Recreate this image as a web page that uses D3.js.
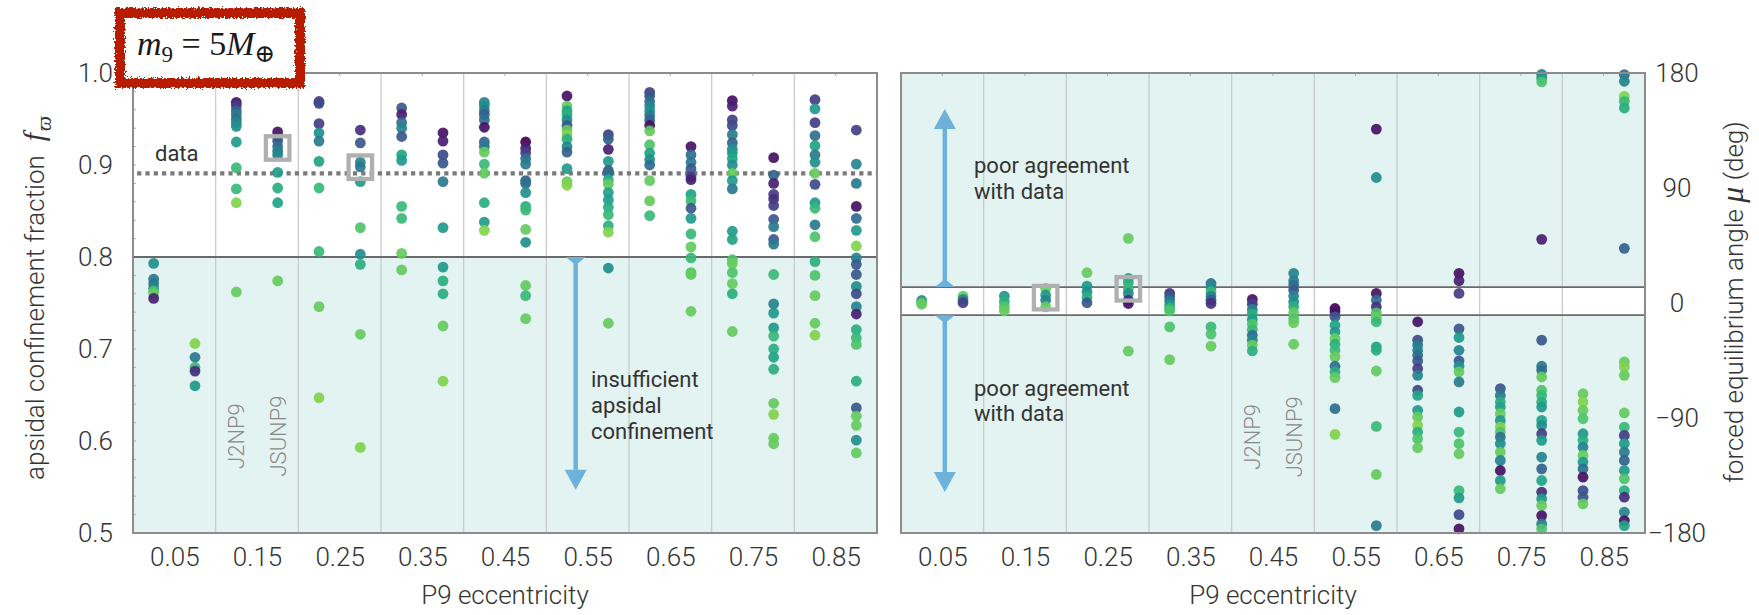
<!DOCTYPE html>
<html>
<head>
<meta charset="utf-8">
<script src="https://cdn.jsdelivr.net/npm/d3@7"></script>
<style>
  body { margin: 0; background: #fff; }
  svg text { font-family: Roboto, "Liberation Sans", sans-serif; font-weight: 300; fill: #333; }
</style>
</head>
<body>
<svg id="chart" width="1759" height="615"></svg>
<script>
// ---- data -------------------------------------------------------------
// P9 eccentricity of each simulation column
const eccColumns = [0.025, 0.075, 0.125, 0.175, 0.225, 0.275, 0.325, 0.375, 0.425,
                    0.475, 0.525, 0.575, 0.625, 0.675, 0.725, 0.775, 0.825, 0.875];
// x tick labels (bin centres) and bin edges
const eccTicks = [0.05, 0.15, 0.25, 0.35, 0.45, 0.55, 0.65, 0.75, 0.85];
const eccEdges = [0.1, 0.2, 0.3, 0.4, 0.5, 0.6, 0.7, 0.8];
const fTicks = [0.5, 0.6, 0.7, 0.8, 0.9, 1.0];
const muTicks = [-180, -90, 0, 90, 180];

// apsidal confinement fraction per column
const fValues = [
  [.793,.776,.771,.766,.763,.760,.755],
  [.706,.691,.680,.676,.660],
  [.968,.964,.959,.955,.950,.946,.942,.925,.897,.874,.859,.762],
  [.936,.931,.926,.920,.915,.911,.892,.875,.859,.774],
  [.969,.967,.945,.935,.926,.904,.875,.806,.746,.647],
  [.938,.924,.903,.898,.882,.832,.803,.792,.716,.593],
  [.962,.955,.946,.940,.931,.911,.905,.855,.842,.804,.786],
  [.935,.926,.911,.902,.882,.832,.789,.774,.760,.725,.665],
  [.968,.964,.959,.955,.949,.941,.925,.920,.914,.901,.891,.859,.838,.829],
  [.925,.918,.913,.907,.901,.883,.880,.870,.855,.851,.830,.816,.769,.758,.733],
  [.975,.964,.959,.955,.949,.943,.938,.933,.928,.920,.914,.896,.882,.878],
  [.933,.928,.917,.904,.894,.891,.884,.879,.870,.862,.854,.846,.834,.827,.788,.728],
  [.979,.975,.969,.964,.959,.954,.949,.943,.937,.922,.913,.906,.900,.883,.861,.845],
  [.920,.911,.903,.896,.887,.884,.868,.861,.853,.842,.825,.811,.799,.783,.781,.741],
  [.970,.964,.949,.943,.933,.924,.917,.913,.907,.900,.891,.883,.874,.828,.819,.797,.793,.783,.771,.760,.719],
  [.908,.889,.880,.868,.863,.856,.841,.833,.819,.814,.781,.749,.739,.723,.714,.700,.691,.678,.641,.629,.603,.597],
  [.971,.961,.946,.932,.921,.911,.903,.891,.879,.859,.853,.835,.822,.795,.780,.758,.728,.715],
  [.938,.901,.880,.855,.842,.829,.812,.799,.792,.781,.768,.760,.746,.738,.721,.712,.705,.665,.636,.627,.617,.601,.587]
];
// colour parameter (0 = dark purple ... 1 = light green) for each point above
const fTones = [
  [.55,.45,.45,.5,.8,.85,.1],
  [.9,.45,.75,.15,.6],
  [.05,.2,.35,.45,.4,.5,.55,.6,.75,.75,.9,.85],
  [.05,.15,.3,.4,.45,.5,.6,.7,.65,.85],
  [.2,.25,.2,.55,.45,.65,.75,.75,.85,.9],
  [.15,.3,.5,.45,.6,.8,.55,.7,.85,.9],
  [.3,.1,.4,.5,.3,.65,.6,.75,.75,.85,.85],
  [.05,.1,.25,.3,.45,.6,.6,.7,.7,.85,.9],
  [.5,.55,.45,.35,.4,.05,.35,.45,.85,.75,.85,.7,.6,.9],
  [0,.1,.2,.4,.45,.35,.4,.55,.7,.75,.85,.55,.85,.75,.85],
  [.05,.85,.65,.7,.55,.3,.85,.9,.7,.5,.35,.6,.85,.9],
  [.2,.35,.1,.6,.3,.4,.7,.85,.65,.6,.7,.75,.7,.9,.55,.85],
  [.2,.3,.4,.5,.55,.45,.35,.05,.85,.8,.65,.55,.4,.85,.85,.75],
  [.05,.4,.45,.3,.2,.1,.65,.75,.3,.6,.75,.85,.75,.8,.85,.85],
  [.05,.1,.2,.25,.45,.35,.55,.6,.65,.55,.85,.6,.45,.6,.65,.8,.85,.8,.85,.7,.85],
  [.05,.35,.1,.2,.15,.2,.3,.45,.3,.45,.75,.5,.6,.6,.75,.7,.65,.7,.85,.9,.85,.85],
  [.2,.6,.2,.4,.65,.45,.55,.85,.25,.6,.75,.45,.8,.7,.8,.85,.85,.9],
  [.2,.5,.45,.05,.4,.6,.9,.5,.3,.3,.55,.25,.5,.1,.7,.75,.8,.7,.3,.85,.85,.55,.85]
];

// forced equilibrium angle (deg) per column
const muValues = [
  [2, 0, -1],
  [5.4, 2.8, 0.2],
  [5.4, 1.0, -3.0, -6.1],
  [11.4, 6.2, 2.2, -3.0],
  [23.7, 13.2, 8.8, 4.3, 0.2],
  [50.6, 19.2, 15.8, 11.4, 7.5, 2.2, -0.4, -37.7],
  [7.5, 4.9, 1.7, -1.7, -4.3, -6.1, -18.7, -44.3],
  [15.3, 12.2, 8.8, 5.4, 2.2, -0.4, -18.7, -24.4, -33.8],
  [2.8, -0.9, -5.1, -8.7, -12.9, -16.6, -20.8, -25.2, -29.1, -33.0, -37.5],
  [23.2, 17.4, 14.0, 10.1, 5.4, 1.0, -3.0, -7.7, -12.1, -15.5, -32.3],
  [-4.3, -6.9, -10.8, -17.4, -22.6, -27.8, -32.3, -37.0, -42.2, -49.5, -54.0, -58.4, -82.7, -102.8],
  [136.1, 98.2, 7.5, 2.2, -3.0, -7.7, -11.3, -14.7, -34.3, -37.0, -53.2, -96.6, -134.2, -174.2],
  [-14.7, -29.1, -33.0, -37.0, -40.9, -45.3, -51.3, -56.6, -68.3, -72.3, -84.0, -89.2, -95.8, -101.0, -106.2, -113.3],
  [23.2, 17.4, 7.5, -20.2, -27.0, -37.0, -45.3, -49.5, -54.0, -61.8, -85.3, -101.0, -110.1, -118.0, -146.8, -152.5, -165.6, -176.8],
  [-67.0, -72.3, -77.5, -81.4, -86.6, -91.9, -97.1, -101.0, -104.9, -110.1, -116.7, -123.2, -131.1, -138.9, -145.4],
  [179, 176, 173, 49.8, -29.1, -49.5, -52.6, -57.9, -68.3, -72.3, -77.5, -81.4, -91.9, -95.8, -102.3, -107.5, -120.6, -129.8, -138.9, -148.0, -153.3, -158.5, -166.4, -172.9, -176.8],
  [-71.0, -77.5, -84.0, -90.6, -102.3, -107.5, -112.8, -119.3, -124.5, -129.8, -136.3, -146.8, -152.0, -157.2],
  [178.7, 173.5, 161.7, 157.8, 152.6, 42.8, -46.1, -50.0, -56.6, -86.1, -97.1, -103.6, -110.1, -116.7, -123.2, -131.1, -137.6, -146.8, -152.0, -163.7, -170.3, -174.2]
];
const muTones = [
  [.5,.8,.85],
  [.85,.5,.2],
  [.6,.7,.8,.85],
  [.85,.6,.5,.85],
  [.85,.6,.55,.7,.3],
  [.85,.6,.7,.75,.55,.15,.05,.85],
  [.15,.3,.45,.6,.75,.8,.8,.85],
  [.4,.55,.75,.5,.3,.15,.75,.8,.85],
  [.05,.2,.5,.7,.6,.8,.75,.4,.5,.85,.7],
  [.5,.45,.4,.3,.5,.55,.7,.85,.8,.85,.85],
  [0,.05,.3,.65,.6,.85,.7,.75,.85,.4,.7,.85,.4,.9],
  [.05,.55,.05,.4,.15,.8,.85,.75,.65,.7,.85,.75,.85,.45],
  [.05,.25,.45,.5,.4,.3,.2,.5,.25,.65,.6,.85,.9,.7,.8,.85],
  [.05,.1,.2,.3,.6,.5,.3,.55,.85,.45,.6,.75,.8,.85,.75,.6,.25,.05],
  [.3,.45,.7,.65,.85,.6,.9,.8,.4,.55,.85,.5,.05,.6,.85],
  [.5,.6,.8,.1,.3,.45,.4,.85,.8,.75,.7,.6,.65,.55,.2,.6,.5,.35,.65,.15,.6,.85,.05,.45,.8],
  [.85,.9,.85,.8,.6,.7,.5,.85,.6,.4,.05,.25,.3,.85],
  [.4,.5,.9,.75,.7,.35,.85,.9,.85,.85,.75,.2,.6,.45,.35,.6,.8,.7,.15,.5,.05,.65]
];

// reference values from the observed distant KBOs
const fThreshold = 0.8;
const fObserved = 0.891;
const muBand = [-9.5, 12.5];
// highlighted simulations: [eccentricity, value]
const fHighlights = [[0.175, 0.9185], [0.275, 0.8976]];
const muHighlights = [[0.175, 4.2], [0.275, 11.1]];
// giant-planet configurations labelled in each panel
const fConfigLabels = [[0.125, "J2NP9"], [0.175, "JSUNP9"]];
const muConfigLabels = [[0.425, "J2NP9"], [0.475, "JSUNP9"]];

// ---- layout -----------------------------------------------------------
const svg = d3.select("#chart");
const plotTop = 73, plotBottom = 533;
const xL = d3.scaleLinear().domain([0, 0.9]).range([133, 877]);
const xR = d3.scaleLinear().domain([0, 0.9]).range([901, 1645]);
const yL = d3.scaleLinear().domain([0.5, 1.0]).range([plotBottom, plotTop]);
const yR = d3.scaleLinear().domain([-180, 180]).range([plotBottom, plotTop]);
const tone = t => d3.interpolateViridis(t * 0.9);

const shade = "#e3f3f1";
const gridCol = "#c7cdcc";
const frameCol = "#8c8c8c";
const refLine = "#6a6a6a";
const arrowCol = "#6db2da";

const defs = svg.append("defs");
const rough = defs.append("filter").attr("id", "rough")
  .attr("x", "-10%").attr("y", "-20%").attr("width", "120%").attr("height", "140%");
rough.append("feTurbulence").attr("type", "fractalNoise").attr("baseFrequency", 0.55)
  .attr("numOctaves", 2).attr("seed", 3).attr("result", "noise");
rough.append("feDisplacementMap").attr("in", "SourceGraphic").attr("in2", "noise")
  .attr("scale", 6).attr("xChannelSelector", "R").attr("yChannelSelector", "G");

// ---- shared helpers ---------------------------------------------------
function drawGrid(g, x) {
  g.selectAll("line.grid").data(eccEdges).join("line").attr("class", "grid")
    .attr("x1", d => x(d)).attr("x2", d => x(d))
    .attr("y1", plotTop).attr("y2", plotBottom)
    .attr("stroke", gridCol).attr("stroke-width", 1.3);
  // small ticks on the top edge at bin centres
  g.selectAll("line.ttick").data(eccTicks).join("line").attr("class", "ttick")
    .attr("x1", d => x(d)).attr("x2", d => x(d))
    .attr("y1", plotTop).attr("y2", plotTop + 3)
    .attr("stroke", "#aaa").attr("stroke-width", 1);
}

function drawDots(g, x, y, values, tones) {
  const pts = [];
  values.forEach((col, i) => col.forEach((v, j) =>
    pts.push({ e: eccColumns[i], v: v, t: tones[i][j] })));
  g.selectAll("circle").data(pts).join("circle")
    .attr("cx", d => x(d.e)).attr("cy", d => y(d.v)).attr("r", 5.4)
    .attr("fill", d => tone(d.t)).attr("fill-opacity", 0.92);
}

function drawHighlights(g, x, y, pts) {
  const s = 23.5;
  g.selectAll("rect.hl").data(pts).join("rect").attr("class", "hl")
    .attr("x", d => x(d[0]) - s / 2).attr("y", d => y(d[1]) - s / 2)
    .attr("width", s).attr("height", s)
    .attr("fill", "none").attr("stroke", "#b0b0b0").attr("stroke-width", 4.3);
}

function drawConfigLabels(g, x, yPos, labels) {
  labels.forEach(([e, txt]) => {
    g.append("text")
      .attr("transform", `translate(${x(e)},${yPos}) rotate(-90)`)
      .attr("text-anchor", "middle").attr("dy", "0.36em")
      .style("font-size", "22px").style("fill", "#8a8a8a").text(txt);
  });
}

// vertical arrow: tail marker sits on yStart, head tip at yTip
function drawArrow(g, x, yStart, yTip) {
  const dir = yTip < yStart ? -1 : 1;
  const headLen = 20, headHalf = 11, tailLen = 8, tailHalf = 10;
  g.append("line").attr("x1", x).attr("x2", x)
    .attr("y1", yStart).attr("y2", yTip - dir * headLen)
    .attr("stroke", arrowCol).attr("stroke-width", 4.5);
  g.append("path")
    .attr("d", `M${x - headHalf},${yTip - dir * headLen}L${x + headHalf},${yTip - dir * headLen}L${x},${yTip}Z`)
    .attr("fill", arrowCol);
  g.append("path")
    .attr("d", `M${x - tailHalf},${yStart}L${x + tailHalf},${yStart}L${x},${yStart + dir * tailLen}Z`)
    .attr("fill", arrowCol);
}

function drawXAxis(x, center) {
  const ax = d3.axisBottom(x).tickValues(eccTicks).tickSize(0).tickPadding(15)
    .tickFormat(d3.format(".2f"));
  const g = svg.append("g").attr("transform", `translate(0,${plotBottom})`).call(ax);
  g.select(".domain").remove();
  g.selectAll("text").style("font-size", "26px").style("fill", "#333");
  svg.append("text").attr("x", center).attr("y", 604).attr("text-anchor", "middle")
    .style("font-size", "26px").text("P9 eccentricity");
}

// ---- left panel: apsidal confinement fraction -------------------------
const gL = svg.append("g");
gL.append("rect").attr("x", xL(0)).attr("y", yL(fThreshold))
  .attr("width", xL(0.9) - xL(0)).attr("height", yL(0.5) - yL(fThreshold)).attr("fill", shade);
drawGrid(gL, xL);
// minor ticks on the left edge
gL.selectAll("line.mtick").data(d3.range(0.52, 1.0, 0.02)).join("line").attr("class", "mtick")
  .attr("x1", xL(0)).attr("x2", xL(0) + 3).attr("y1", d => yL(d)).attr("y2", d => yL(d))
  .attr("stroke", "#aaa").attr("stroke-width", 1);
gL.append("line").attr("x1", xL(0)).attr("x2", xL(0.9))
  .attr("y1", yL(fThreshold)).attr("y2", yL(fThreshold))
  .attr("stroke", refLine).attr("stroke-width", 1.8);
drawConfigLabels(gL, xL, yL(0.6054), fConfigLabels);
drawArrow(gL, xL(0.5355), yL(fThreshold), yL(0.547));
gL.append("line").attr("x1", xL(0.005)).attr("x2", xL(0.9))
  .attr("y1", yL(fObserved)).attr("y2", yL(fObserved))
  .attr("stroke", "#7a7a7a").attr("stroke-width", 4.2).attr("stroke-dasharray", "4.2 4.1");
drawDots(gL.append("g"), xL, yL, fValues, fTones);
drawHighlights(gL, xL, yL, fHighlights);
gL.append("text").attr("x", xL(0.0266)).attr("y", yL(0.9047))
  .style("font-size", "22px").style("font-weight", 400).text("data");
const insuff = gL.append("text").attr("x", xL(0.554)).attr("y", yL(0.6587))
  .style("font-size", "22px").style("font-weight", 400);
["insufficient", "apsidal", "confinement"].forEach((s, i) =>
  insuff.append("tspan").attr("x", xL(0.554)).attr("dy", i ? 26 : 0).text(s));
gL.append("rect").attr("x", xL(0)).attr("y", plotTop)
  .attr("width", xL(0.9) - xL(0)).attr("height", plotBottom - plotTop)
  .attr("fill", "none").attr("stroke", frameCol).attr("stroke-width", 2);

const axL = d3.axisLeft(yL).tickValues(fTicks).tickSize(0).tickPadding(20)
  .tickFormat(d3.format(".1f"));
const gAxL = svg.append("g").attr("transform", `translate(${xL(0)},0)`).call(axL);
gAxL.select(".domain").remove();
gAxL.selectAll("text").style("font-size", "26px").style("fill", "#333");
drawXAxis(xL, (xL(0) + xL(0.9)) / 2);

const titleL = svg.append("text").attr("transform", "translate(44,298) rotate(-90)")
  .attr("text-anchor", "middle").style("font-size", "26px");
titleL.append("tspan").text("apsidal confinement fraction");
titleL.append("tspan").attr("dx", 14)
  .style("font-family", "'Liberation Serif', serif").style("font-style", "italic")
  .style("font-size", "30px").style("font-weight", 400).text("f");
titleL.append("tspan").attr("dx", 2).attr("dy", 7)
  .style("font-family", "'Liberation Serif', serif").style("font-style", "italic")
  .style("font-size", "21px").style("font-weight", 400).text("ϖ");

// ---- right panel: forced equilibrium angle ----------------------------
const gR = svg.append("g");
gR.append("rect").attr("x", xR(0)).attr("y", plotTop)
  .attr("width", xR(0.9) - xR(0)).attr("height", plotBottom - plotTop).attr("fill", shade);
gR.append("rect").attr("x", xR(0)).attr("y", yR(muBand[1]))
  .attr("width", xR(0.9) - xR(0)).attr("height", yR(muBand[0]) - yR(muBand[1])).attr("fill", "#fff");
drawGrid(gR, xR);
muBand.forEach(b => gR.append("line").attr("x1", xR(0)).attr("x2", xR(0.9))
  .attr("y1", yR(b)).attr("y2", yR(b)).attr("stroke", refLine).attr("stroke-width", 1.8));
drawConfigLabels(gR, xR, yR(-104.7), muConfigLabels);
drawArrow(gR, xR(0.053), yR(muBand[1]), yR(151.8));
drawArrow(gR, xR(0.053), yR(muBand[0]), yR(-148));
drawDots(gR.append("g"), xR, yR, muValues, muTones);
drawHighlights(gR, xR, yR, muHighlights);
[[101.6, ["poor agreement", "with data"]], [-72.5, ["poor agreement", "with data"]]].forEach(([v, lines]) => {
  const t = gR.append("text").attr("x", xR(0.0883)).attr("y", yR(v))
    .style("font-size", "22px").style("font-weight", 400);
  lines.forEach((s, i) => t.append("tspan").attr("x", xR(0.0883)).attr("dy", i ? 25.5 : 0).text(s));
});
gR.append("rect").attr("x", xR(0)).attr("y", plotTop)
  .attr("width", xR(0.9) - xR(0)).attr("height", plotBottom - plotTop)
  .attr("fill", "none").attr("stroke", frameCol).attr("stroke-width", 2);

const axR = d3.axisRight(yR).tickValues(muTicks).tickSize(0).tickPadding(32);
const gAxR = svg.append("g").attr("transform", `translate(${xR(0.9)},0)`).call(axR);
gAxR.select(".domain").remove();
gAxR.selectAll("text").attr("text-anchor", "middle").style("font-size", "26px").style("fill", "#333");
drawXAxis(xR, (xR(0) + xR(0.9)) / 2);

const titleR = svg.append("text").attr("transform", "translate(1743,302) rotate(-90)")
  .attr("text-anchor", "middle").style("font-size", "26px");
titleR.append("tspan").text("forced equilibrium angle ");
titleR.append("tspan")
  .style("font-family", "'Liberation Serif', serif").style("font-style", "italic")
  .style("font-size", "32px").style("font-weight", 400).text("μ");
titleR.append("tspan").text(" (deg)");

// ---- mass label box ---------------------------------------------------
const box = svg.append("g");
box.append("rect").attr("x", 120).attr("y", 13).attr("width", 180).attr("height", 70).attr("fill", "#fff");
box.append("rect").attr("x", 120).attr("y", 13).attr("width", 180).attr("height", 70)
  .attr("fill", "none").attr("stroke", "#b81d02").attr("stroke-width", 10).attr("filter", "url(#rough)");
const mass = box.append("text").attr("x", 137).attr("y", 55)
  .style("font-family", "'Liberation Serif', 'DejaVu Serif', serif").style("font-weight", 400)
  .style("font-size", "34px").style("fill", "#1a1a1a");
mass.append("tspan").style("font-style", "italic").text("m");
mass.append("tspan").attr("dy", 7).style("font-size", "23px").text("9");
mass.append("tspan").attr("dy", -7).text(" = 5");
mass.append("tspan").style("font-style", "italic").text("M");
mass.append("tspan").attr("dy", 7).style("font-size", "25px").text("⊕");
</script>
</body>
</html>
